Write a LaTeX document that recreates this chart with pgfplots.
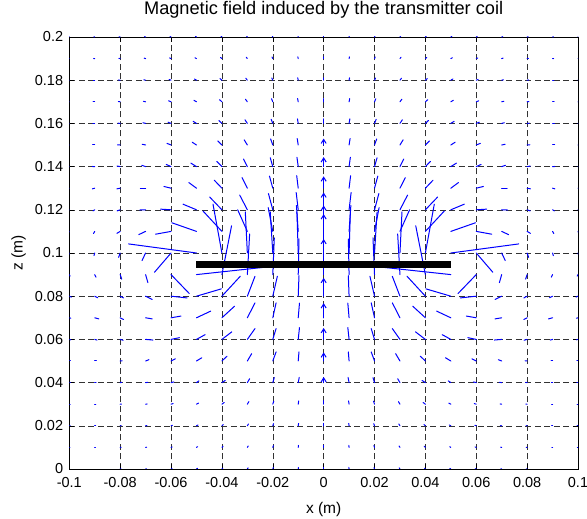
\documentclass[border=0pt]{standalone}
\usepackage{pgfplots}
\pgfplotsset{compat=1.18}
\usepackage{pgfplotstable}
\usepackage{fontspec}
\setmainfont{Liberation Sans}
\usetikzlibrary{arrows.meta}

% field vectors (u, v in units of 1e-3 m of arrow length)
\pgfplotstableread{
x z u v
-0.1 0 0.2 0
-0.09 0 0.25 0
-0.08 0 0.3 0.05
-0.07 0 0.35 0.1
-0.06 0 0.4 0.15
-0.05 0 0.4 0.3
-0.04 0 0.35 0.4
-0.03 0 0.3 0.55
-0.02 0 0.2 0.65
-0.01 0 0.1 0.7
0 0 0 0.7
0.01 0 -0.1 0.7
0.02 0 -0.2 0.65
0.03 0 -0.3 0.55
0.04 0 -0.35 0.4
0.05 0 -0.4 0.3
0.06 0 -0.4 0.15
0.07 0 -0.35 0.1
0.08 0 -0.3 0.05
0.09 0 -0.25 0
0.1 0 -0.2 0
-0.1 0.01 0.25 0
-0.09 0.01 0.3 0
-0.08 0.01 0.35 0.05
-0.07 0.01 0.4 0.1
-0.06 0.01 0.45 0.2
-0.05 0.01 0.45 0.35
-0.04 0.01 0.45 0.5
-0.03 0.01 0.35 0.65
-0.02 0.01 0.25 0.8
-0.01 0.01 0.1 0.9
0 0.01 0 0.9
0.01 0.01 -0.1 0.9
0.02 0.01 -0.25 0.8
0.03 0.01 -0.35 0.65
0.04 0.01 -0.45 0.5
0.05 0.01 -0.45 0.35
0.06 0.01 -0.45 0.2
0.07 0.01 -0.4 0.1
0.08 0.01 -0.35 0.05
0.09 0.01 -0.3 0
0.1 0.01 -0.25 0
-0.1 0.02 0.3 0
-0.09 0.02 0.35 0
-0.08 0.02 0.4 0.05
-0.07 0.02 0.5 0.1
-0.06 0.02 0.55 0.25
-0.05 0.02 0.6 0.4
-0.04 0.02 0.55 0.6
-0.03 0.02 0.45 0.85
-0.02 0.02 0.3 1.0
-0.01 0.02 0.15 1.1
0 0.02 0 1.1
0.01 0.02 -0.15 1.1
0.02 0.02 -0.3 1.0
0.03 0.02 -0.45 0.85
0.04 0.02 -0.55 0.6
0.05 0.02 -0.6 0.4
0.06 0.02 -0.55 0.25
0.07 0.02 -0.5 0.1
0.08 0.02 -0.4 0.05
0.09 0.02 -0.35 0
0.1 0.02 -0.3 0
-0.1 0.03 0.3 0
-0.09 0.03 0.4 0
-0.08 0.03 0.5 0.05
-0.07 0.03 0.6 0.1
-0.06 0.03 0.8 0.3
-0.05 0.03 0.8 0.5
-0.04 0.03 0.9 0.8
-0.03 0.03 0.6 1.2
-0.02 0.03 0.4 1.4
-0.01 0.03 0.2 1.5
0 0.03 0 1.6
0.01 0.03 -0.2 1.5
0.02 0.03 -0.4 1.4
0.03 0.03 -0.6 1.2
0.04 0.03 -0.9 0.8
0.05 0.03 -0.8 0.5
0.06 0.03 -0.8 0.3
0.07 0.03 -0.6 0.1
0.08 0.03 -0.5 0.05
0.09 0.03 -0.4 0
0.1 0.03 -0.3 0
-0.1 0.04 0.4 0
-0.09 0.04 0.5 0
-0.08 0.04 0.6 0.1
-0.07 0.04 0.9 0.1
-0.06 0.04 1.1 0.3
-0.05 0.04 1.0 0.8
-0.04 0.04 1.3 1.0
-0.03 0.04 0.9 1.8
-0.02 0.04 0.6 2.3
-0.01 0.04 0.4 2.4
0.01 0.04 -0.4 2.4
0.02 0.04 -0.6 2.3
0.03 0.04 -0.9 1.8
0.04 0.04 -1.3 1.0
0.05 0.04 -1.0 0.8
0.06 0.04 -1.1 0.3
0.07 0.04 -0.9 0.1
0.08 0.04 -0.6 0.1
0.09 0.04 -0.5 0
0.1 0.04 -0.4 0
-0.1 0.05 0.4 0
-0.09 0.05 0.6 0
-0.08 0.05 0.8 0.1
-0.07 0.05 1.3 0.6
-0.06 0.05 1.7 1.0
-0.05 0.05 2.1 1.5
-0.04 0.05 2.0 2.2
-0.03 0.05 1.7 3.4
-0.02 0.05 1.3 4.2
-0.01 0.05 0.3 4.2
0.01 0.05 -0.3 4.2
0.02 0.05 -1.3 4.2
0.03 0.05 -1.7 3.4
0.04 0.05 -2.0 2.2
0.05 0.05 -2.1 1.5
0.06 0.05 -1.7 1.0
0.07 0.05 -1.3 0.6
0.08 0.05 -0.8 0.1
0.09 0.05 -0.6 0
0.1 0.05 -0.4 0
-0.1 0.06 0.6 -0.2
-0.09 0.06 0.9 -0.3
-0.08 0.06 1.2 -0.4
-0.07 0.06 2.9 -0.3
-0.06 0.06 3.3 0.8
-0.05 0.06 3.4 2.2
-0.04 0.06 3.9 3.5
-0.03 0.06 3.0 5.0
-0.02 0.06 1.3 5.0
-0.01 0.06 0.5 5.5
0.01 0.06 -0.5 5.5
0.02 0.06 -1.3 5.0
0.03 0.06 -3.0 5.0
0.04 0.06 -3.9 3.5
0.05 0.06 -3.4 2.2
0.06 0.06 -3.3 0.8
0.07 0.06 -2.9 -0.3
0.08 0.06 -1.2 -0.4
0.09 0.06 -0.9 -0.3
0.1 0.06 -0.6 -0.2
-0.1 0.07 0.6 -0.2
-0.09 0.07 1.6 -0.5
-0.08 0.07 1.3 -0.8
-0.07 0.07 2.6 -0.5
-0.06 0.07 3.9 0.8
-0.05 0.07 5.6 3.1
-0.04 0.07 5.0 5.4
-0.03 0.07 3.0 6.9
-0.02 0.07 1.3 6.9
-0.01 0.07 0.5 6.8
0.01 0.07 -0.5 6.8
0.02 0.07 -1.3 6.9
0.03 0.07 -3.0 6.9
0.04 0.07 -5.0 5.4
0.05 0.07 -5.6 3.1
0.06 0.07 -3.9 0.8
0.07 0.07 -2.6 -0.5
0.08 0.07 -1.3 -0.8
0.09 0.07 -1.6 -0.5
0.1 0.07 -0.6 -0.2
-0.1 0.08 0.8 -0.4
-0.09 0.08 1.2 -0.7
-0.08 0.08 1.3 -0.8
-0.07 0.08 2.6 -1.5
-0.06 0.08 6.3 -0.8
-0.05 0.08 9.8 3.4
-0.04 0.08 7.2 9.2
-0.03 0.08 3.0 9.2
-0.02 0.08 1.8 9.2
-0.01 0.08 0.3 9.5
0.01 0.08 -0.3 9.5
0.02 0.08 -1.8 9.2
0.03 0.08 -3.0 9.2
0.04 0.08 -7.2 9.2
0.05 0.08 -9.8 3.4
0.06 0.08 -6.3 -0.8
0.07 0.08 -2.6 -1.5
0.08 0.08 -1.3 -0.8
0.09 0.08 -1.2 -0.7
0.1 0.08 -0.8 -0.4
-0.1 0.09 0.3 -0.7
-0.09 0.09 0.5 -1.2
-0.08 0.09 0.6 -2.1
-0.07 0.09 0.9 -3.7
-0.06 0.09 7.2 -8.8
-0.05 0.09 26.8 3.4
-0.04 0.09 3.8 22.6
-0.03 0.09 0.9 18.8
-0.02 0.09 0.6 17
-0.01 0.09 0.3 16.5
0.01 0.09 -0.3 16.5
0.02 0.09 -0.6 17
0.03 0.09 -0.9 18.8
0.04 0.09 -3.8 22.6
0.05 0.09 -26.8 3.4
0.06 0.09 -7.2 -8.8
0.07 0.09 -0.9 -3.7
0.08 0.09 -0.6 -2.1
0.09 0.09 -0.5 -1.2
0.1 0.09 -0.3 -0.7
-0.1 0.1 -0.2 -0.8
-0.09 0.1 -0.3 -1.2
-0.08 0.1 -0.6 -2.0
-0.07 0.1 -1.4 -3.5
-0.06 0.1 -6.5 -8.9
-0.05 0.1 -26.7 4.2
-0.04 0.1 -3.5 22.6
-0.03 0.1 -0.8 19
-0.02 0.1 -1.0 19
-0.01 0.1 -0.5 19
0.01 0.1 0.5 19
0.02 0.1 1.0 19
0.03 0.1 0.8 19
0.04 0.1 3.5 22.6
0.05 0.1 26.7 4.2
0.06 0.1 6.5 -8.9
0.07 0.1 1.4 -3.5
0.08 0.1 0.6 -2.0
0.09 0.1 0.3 -1.2
0.1 0.1 0.2 -0.8
-0.1 0.11 -0.3 -0.8
-0.09 0.11 -0.5 -1.0
-0.08 0.11 -1.3 -0.9
-0.07 0.11 -2.7 -1.5
-0.06 0.11 -6.1 -1.3
-0.05 0.11 -9.7 4.0
-0.04 0.11 -7.4 9.4
-0.03 0.11 -3.8 10
-0.02 0.11 -1.8 11
-0.01 0.11 -0.7 12
0.01 0.11 0.7 12
0.02 0.11 1.8 11
0.03 0.11 3.8 10
0.04 0.11 7.4 9.4
0.05 0.11 9.7 4.0
0.06 0.11 6.1 -1.3
0.07 0.11 2.7 -1.5
0.08 0.11 1.3 -0.9
0.09 0.11 0.5 -1.0
0.1 0.11 0.3 -0.8
-0.1 0.12 -0.5 -0.4
-0.09 0.12 -0.7 -0.5
-0.08 0.12 -1.2 -0.5
-0.07 0.12 -2.3 -0.1
-0.06 0.12 -4.1 0.3
-0.05 0.12 -5.3 2.6
-0.04 0.12 -4.8 5.9
-0.03 0.12 -3.0 6.8
-0.02 0.12 -1.7 7.5
-0.01 0.12 -0.8 8.0
0.01 0.12 0.8 8.0
0.02 0.12 1.7 7.5
0.03 0.12 3.0 6.8
0.04 0.12 4.8 5.9
0.05 0.12 5.3 2.6
0.06 0.12 4.1 0.3
0.07 0.12 2.3 -0.1
0.08 0.12 1.2 -0.5
0.09 0.12 0.7 -0.5
0.1 0.12 0.5 -0.4
-0.1 0.13 -0.7 -0.3
-0.09 0.13 -0.9 -0.3
-0.08 0.13 -1.3 -0.3
-0.07 0.13 -2.1 0
-0.06 0.13 -2.8 0.8
-0.05 0.13 -3.0 2.6
-0.04 0.13 -3.0 3.7
-0.03 0.13 -2.1 4.9
-0.02 0.13 -1.3 5.6
-0.01 0.13 -0.6 5.8
0.01 0.13 0.6 5.8
0.02 0.13 1.3 5.6
0.03 0.13 2.1 4.9
0.04 0.13 3.0 3.7
0.05 0.13 3.0 2.6
0.06 0.13 2.8 0.8
0.07 0.13 2.1 0
0.08 0.13 1.3 -0.3
0.09 0.13 0.9 -0.3
0.1 0.13 0.7 -0.3
-0.1 0.14 -0.7 -0.1
-0.09 0.14 -0.9 0.05
-0.08 0.14 -1.2 0.25
-0.07 0.14 -1.5 0.6
-0.06 0.14 -1.9 1.0
-0.05 0.14 -2.2 1.6
-0.04 0.14 -2.0 2.4
-0.03 0.14 -1.5 3.5
-0.02 0.14 -1.0 4.1
-0.01 0.14 -0.5 4.3
0.01 0.14 0.5 4.3
0.02 0.14 1.0 4.1
0.03 0.14 1.5 3.5
0.04 0.14 2.0 2.4
0.05 0.14 2.2 1.6
0.06 0.14 1.9 1.0
0.07 0.14 1.5 0.6
0.08 0.14 1.2 0.25
0.09 0.14 0.9 0.05
0.1 0.14 0.7 -0.1
-0.1 0.15 -0.65 -0.1
-0.09 0.15 -0.85 0
-0.08 0.15 -1.05 0.1
-0.07 0.15 -1.35 0.35
-0.06 0.15 -1.6 0.75
-0.05 0.15 -1.7 1.3
-0.04 0.15 -1.6 1.9
-0.03 0.15 -1.25 2.4
-0.02 0.15 -0.85 2.8
-0.01 0.15 -0.4 3.0
0.01 0.15 0.4 3.0
0.02 0.15 0.85 2.8
0.03 0.15 1.25 2.4
0.04 0.15 1.6 1.9
0.05 0.15 1.7 1.3
0.06 0.15 1.6 0.75
0.07 0.15 1.35 0.35
0.08 0.15 1.05 0.1
0.09 0.15 0.85 0
0.1 0.15 0.65 -0.1
-0.1 0.16 -0.55 -0.1
-0.09 0.16 -0.7 0
-0.08 0.16 -0.85 0.1
-0.07 0.16 -1.05 0.3
-0.06 0.16 -1.2 0.55
-0.05 0.16 -1.3 0.95
-0.04 0.16 -1.2 1.35
-0.03 0.16 -0.95 1.7
-0.02 0.16 -0.65 1.9
-0.01 0.16 -0.3 2.1
0 0.16 0 2.1
0.01 0.16 0.3 2.1
0.02 0.16 0.65 1.9
0.03 0.16 0.95 1.7
0.04 0.16 1.2 1.35
0.05 0.16 1.3 0.95
0.06 0.16 1.2 0.55
0.07 0.16 1.05 0.3
0.08 0.16 0.85 0.1
0.09 0.16 0.7 0
0.1 0.16 0.55 -0.1
-0.1 0.17 -0.5 -0.05
-0.09 0.17 -0.6 0
-0.08 0.17 -0.7 0.1
-0.07 0.17 -0.85 0.25
-0.06 0.17 -0.95 0.45
-0.05 0.17 -1.0 0.7
-0.04 0.17 -0.95 1.0
-0.03 0.17 -0.75 1.2
-0.02 0.17 -0.5 1.4
-0.01 0.17 -0.25 1.5
0 0.17 0 1.5
0.01 0.17 0.25 1.5
0.02 0.17 0.5 1.4
0.03 0.17 0.75 1.2
0.04 0.17 0.95 1.0
0.05 0.17 1.0 0.7
0.06 0.17 0.95 0.45
0.07 0.17 0.85 0.25
0.08 0.17 0.7 0.1
0.09 0.17 0.6 0
0.1 0.17 0.5 -0.05
-0.1 0.18 -0.45 -0.05
-0.09 0.18 -0.5 0
-0.08 0.18 -0.6 0.1
-0.07 0.18 -0.7 0.2
-0.06 0.18 -0.75 0.35
-0.05 0.18 -0.8 0.55
-0.04 0.18 -0.75 0.75
-0.03 0.18 -0.6 0.9
-0.02 0.18 -0.4 1.0
-0.01 0.18 -0.2 1.1
0 0.18 0 1.1
0.01 0.18 0.2 1.1
0.02 0.18 0.4 1.0
0.03 0.18 0.6 0.9
0.04 0.18 0.75 0.75
0.05 0.18 0.8 0.55
0.06 0.18 0.75 0.35
0.07 0.18 0.7 0.2
0.08 0.18 0.6 0.1
0.09 0.18 0.5 0
0.1 0.18 0.45 -0.05
-0.1 0.19 -0.4 0
-0.09 0.19 -0.45 0.05
-0.08 0.19 -0.5 0.1
-0.07 0.19 -0.55 0.2
-0.06 0.19 -0.6 0.3
-0.05 0.19 -0.6 0.4
-0.04 0.19 -0.55 0.55
-0.03 0.19 -0.45 0.65
-0.02 0.19 -0.3 0.75
-0.01 0.19 -0.15 0.8
0 0.19 0 0.8
0.01 0.19 0.15 0.8
0.02 0.19 0.3 0.75
0.03 0.19 0.45 0.65
0.04 0.19 0.55 0.55
0.05 0.19 0.6 0.4
0.06 0.19 0.6 0.3
0.07 0.19 0.55 0.2
0.08 0.19 0.5 0.1
0.09 0.19 0.45 0.05
0.1 0.19 0.4 0
-0.1 0.2 -0.3 0
-0.09 0.2 -0.35 0.05
-0.08 0.2 -0.4 0.1
-0.07 0.2 -0.4 0.15
-0.06 0.2 -0.4 0.2
-0.05 0.2 -0.4 0.3
-0.04 0.2 -0.35 0.4
-0.03 0.2 -0.3 0.5
-0.02 0.2 -0.2 0.55
-0.01 0.2 -0.1 0.6
0 0.2 0 0.6
0.01 0.2 0.1 0.6
0.02 0.2 0.2 0.55
0.03 0.2 0.3 0.5
0.04 0.2 0.35 0.4
0.05 0.2 0.4 0.3
0.06 0.2 0.4 0.2
0.07 0.2 0.4 0.15
0.08 0.2 0.4 0.1
0.09 0.2 0.35 0.05
0.1 0.2 0.3 0
}\fieldtab

% arrows on the coil axis (x = 0), drawn with heads
\pgfplotstableread{
x z u v
0 0.04 0 2.6
0 0.05 0 4.0
0 0.06 0 5.3
0 0.07 0 6.8
0 0.08 0 8.5
0 0.09 0 16.5
0 0.1 0 18
0 0.11 0 12
0 0.12 0 8
0 0.13 0 5.5
0 0.14 0 4.4
0 0.15 0 3.0
}\axistab

\begin{document}
\begin{tikzpicture}
\useasboundingbox (0,0) rectangle (587bp,519bp);
\begin{axis}[
  at={(69.3bp,50bp)}, anchor=south west,
  width=508.7bp, height=432bp, scale only axis,
  xmin=-0.1, xmax=0.1, ymin=0, ymax=0.2,
  xtick={-0.1,-0.08,-0.06,-0.04,-0.02,0,0.02,0.04,0.06,0.08,0.1},
  xticklabels={-0.1,-0.08,-0.06,-0.04,-0.02,0,0.02,0.04,0.06,0.08,0.1},
  ytick={0,0.02,0.04,0.06,0.08,0.1,0.12,0.14,0.16,0.18,0.2},
  yticklabels={0,0.02,0.04,0.06,0.08,0.1,0.12,0.14,0.16,0.18,0.2},
  scaled ticks=false,
  tick align=inside, major tick length=5bp,
  tick style={black, line width=0.5bp},
  axis line style={black, line width=0.7bp},
  grid=major,
  major grid style={black!80, line width=0.55bp, dash pattern=on 6bp off 3.5bp},
  ticklabel style={font=\fontsize{14.5bp}{17bp}\selectfont},
  xticklabel style={inner sep=0pt, anchor=north, yshift=-8bp},
  yticklabel style={inner sep=0pt, anchor=east, xshift=-6bp},
  title={Magnetic field induced by the transmitter coil},
  title style={at={(axis description cs:0.5,1.039)}, anchor=base, inner sep=0pt,
    font=\fontsize{18.2bp}{21bp}\selectfont},
  xlabel={x (m)},
  xlabel style={at={(axis description cs:0.5,-0.102)}, anchor=base, inner sep=0pt,
    font=\fontsize{15.5bp}{18bp}\selectfont},
  ylabel={z (m)},
  ylabel style={at={(axis description cs:-0.092,0.5)}, anchor=base, inner sep=0pt,
    font=\fontsize{15.5bp}{18bp}\selectfont},
]
\addplot[blue, line width=1bp, line cap=round,
  quiver={u=\thisrow{u}, v=\thisrow{v}, scale arrows=0.001}]
  table[x=x, y=z] {\fieldtab};
\addplot[blue, line width=1bp, line cap=round,
  -{Straight Barb[length=4bp, width=5bp]},
  quiver={u=\thisrow{u}, v=\thisrow{v}, scale arrows=0.001}]
  table[x=x, y=z] {\axistab};
\addplot[black, line width=7.3bp, line cap=butt] coordinates {(-0.05,0.0946) (0.05,0.0946)};
\end{axis}
\end{tikzpicture}
\end{document}
